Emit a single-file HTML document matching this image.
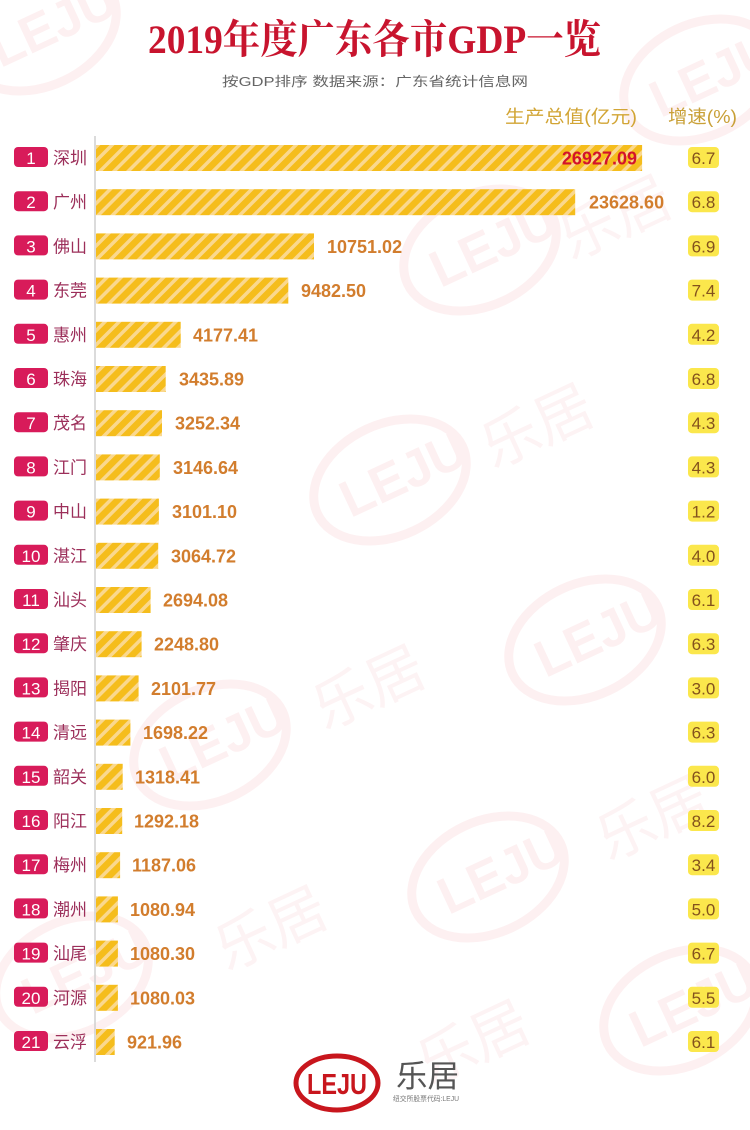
<!DOCTYPE html>
<html>
<head>
<meta charset="utf-8">
<style>
html,body{margin:0;padding:0;background:#fff;}
body{width:750px;height:1130px;overflow:hidden;}
svg{display:block;}
.cjk{font-family:"Liberation Sans","Noto Sans CJK SC",sans-serif;}
.val{font-family:"Liberation Sans","Noto Sans CJK SC",sans-serif;font-weight:bold;font-size:18px;fill:#d27d2d;}
.rk{font-family:"Liberation Sans",sans-serif;font-size:17px;fill:#fff;text-anchor:middle;}
.ct{font-family:"Liberation Sans","Noto Sans CJK SC",sans-serif;font-size:17px;fill:#9c2f5a;}
.gr{font-family:"Liberation Sans",sans-serif;font-size:17px;fill:#84521c;text-anchor:middle;}
.wm{fill:none;stroke:#fdf0f1;stroke-width:9;}
.wmt{font-family:"Liberation Sans",sans-serif;font-weight:bold;font-size:52px;fill:#fdf0f1;}
.wmc{font-family:"Liberation Sans","Noto Sans CJK SC",sans-serif;font-size:58px;fill:#fdf3f4;}
</style>
</head>
<body>
<svg width="750" height="1130" viewBox="0 0 750 1130" xmlns="http://www.w3.org/2000/svg">
<defs>
<pattern id="st" width="10" height="10" patternUnits="userSpaceOnUse" patternTransform="rotate(45)">
<rect width="10" height="10" fill="#f5bd1c"/>
<rect width="3.5" height="10" fill="#fad88e"/>
</pattern>
</defs>

<!-- watermarks -->
<g>
<g transform="translate(40,30) rotate(-25)"><ellipse cx="0" cy="0" rx="80" ry="56" class="wm"/><text x="-52" y="18" class="wmt">LEJU</text></g>
<g transform="translate(480,250) rotate(-25)"><ellipse cx="0" cy="0" rx="80" ry="56" class="wm"/><text x="-52" y="18" class="wmt">LEJU</text></g>
<text x="560" y="250" class="wmc" transform="rotate(-25 590 230)">乐居</text>
<g transform="translate(390,480) rotate(-25)"><ellipse cx="0" cy="0" rx="80" ry="56" class="wm"/><text x="-52" y="18" class="wmt">LEJU</text></g>
<text x="480" y="450" class="wmc" transform="rotate(-25 530 430)">乐居</text>
<g transform="translate(585,640) rotate(-25)"><ellipse cx="0" cy="0" rx="80" ry="56" class="wm"/><text x="-52" y="18" class="wmt">LEJU</text></g>
<g transform="translate(210,745) rotate(-25)"><ellipse cx="0" cy="0" rx="80" ry="56" class="wm"/><text x="-52" y="18" class="wmt">LEJU</text></g>
<text x="310" y="710" class="wmc" transform="rotate(-25 364 687)">乐居</text>
<g transform="translate(488,877) rotate(-25)"><ellipse cx="0" cy="0" rx="80" ry="56" class="wm"/><text x="-52" y="18" class="wmt">LEJU</text></g>
<text x="595" y="840" class="wmc" transform="rotate(-25 650 820)">乐居</text>
<g transform="translate(72,977) rotate(-25)"><ellipse cx="0" cy="0" rx="80" ry="56" class="wm"/><text x="-52" y="18" class="wmt">LEJU</text></g>
<text x="212" y="950" class="wmc" transform="rotate(-25 268 927)">乐居</text>
<g transform="translate(680,1010) rotate(-25)"><ellipse cx="0" cy="0" rx="80" ry="56" class="wm"/><text x="-52" y="18" class="wmt">LEJU</text></g>
<text x="415" y="1065" class="wmc" transform="rotate(-25 469 1043)">乐居</text>
<g transform="translate(700,80) rotate(-25)"><ellipse cx="0" cy="0" rx="80" ry="56" class="wm"/><text x="-52" y="18" class="wmt">LEJU</text></g>
</g>

<!-- title -->
<text x="148" y="53" textLength="453" lengthAdjust="spacingAndGlyphs" style="font-family:'Liberation Serif','Noto Serif CJK SC',serif;font-weight:bold;font-size:40px;fill:#c8142e;">2019年度广东各市GDP一览</text>
<text x="222" y="86" textLength="306" lengthAdjust="spacingAndGlyphs" class="cjk" style="font-size:13px;fill:#666;">按GDP排序 数据来源：广东省统计信息网</text>

<!-- headers -->
<text x="505" y="123" textLength="132" lengthAdjust="spacingAndGlyphs" class="cjk" style="font-size:18px;fill:#d2a535;">生产总值(亿元)</text>
<text x="668" y="123" textLength="69" lengthAdjust="spacingAndGlyphs" class="cjk" style="font-size:18px;fill:#c9a037;">增速(%)</text>

<!-- axis -->
<line x1="95" y1="136" x2="95" y2="1062" stroke="#cfcfcf" stroke-width="1.5"/>

<!-- rows -->
<g>
<rect x="14" y="147" width="34" height="20" rx="4" fill="#d81b5a"/><text x="31" y="164" class="rk">1</text><text x="53" y="164" class="ct">深圳</text>
<rect x="96" y="145" width="546.1" height="26" fill="url(#st)"/><text x="637" y="164.5" class="val" text-anchor="end" style="fill:#d3122c;">26927.09</text>
<rect x="688" y="147" width="31" height="21" rx="4" fill="#fbe74c"/><text x="703.5" y="164" class="gr">6.7</text>

<rect x="14" y="191.2" width="34" height="20" rx="4" fill="#d81b5a"/><text x="31" y="208.2" class="rk">2</text><text x="53" y="208.2" class="ct">广州</text>
<rect x="96" y="189.2" width="479.2" height="26" fill="url(#st)"/><text x="589" y="208.7" class="val">23628.60</text>
<rect x="688" y="191.2" width="31" height="21" rx="4" fill="#fbe74c"/><text x="703.5" y="208.2" class="gr">6.8</text>

<rect x="14" y="235.4" width="34" height="20" rx="4" fill="#d81b5a"/><text x="31" y="252.4" class="rk">3</text><text x="53" y="252.4" class="ct">佛山</text>
<rect x="96" y="233.4" width="218" height="26" fill="url(#st)"/><text x="327" y="252.9" class="val">10751.02</text>
<rect x="688" y="235.4" width="31" height="21" rx="4" fill="#fbe74c"/><text x="703.5" y="252.4" class="gr">6.9</text>

<rect x="14" y="279.6" width="34" height="20" rx="4" fill="#d81b5a"/><text x="31" y="296.6" class="rk">4</text><text x="53" y="296.6" class="ct">东莞</text>
<rect x="96" y="277.6" width="192.3" height="26" fill="url(#st)"/><text x="301" y="297.1" class="val">9482.50</text>
<rect x="688" y="279.6" width="31" height="21" rx="4" fill="#fbe74c"/><text x="703.5" y="296.6" class="gr">7.4</text>

<rect x="14" y="323.8" width="34" height="20" rx="4" fill="#d81b5a"/><text x="31" y="340.8" class="rk">5</text><text x="53" y="340.8" class="ct">惠州</text>
<rect x="96" y="321.8" width="84.7" height="26" fill="url(#st)"/><text x="193" y="341.3" class="val">4177.41</text>
<rect x="688" y="323.8" width="31" height="21" rx="4" fill="#fbe74c"/><text x="703.5" y="340.8" class="gr">4.2</text>

<rect x="14" y="368" width="34" height="20" rx="4" fill="#d81b5a"/><text x="31" y="385" class="rk">6</text><text x="53" y="385" class="ct">珠海</text>
<rect x="96" y="366" width="69.7" height="26" fill="url(#st)"/><text x="179" y="385.5" class="val">3435.89</text>
<rect x="688" y="368" width="31" height="21" rx="4" fill="#fbe74c"/><text x="703.5" y="385" class="gr">6.8</text>

<rect x="14" y="412.2" width="34" height="20" rx="4" fill="#d81b5a"/><text x="31" y="429.2" class="rk">7</text><text x="53" y="429.2" class="ct">茂名</text>
<rect x="96" y="410.2" width="66" height="26" fill="url(#st)"/><text x="175" y="429.7" class="val">3252.34</text>
<rect x="688" y="412.2" width="31" height="21" rx="4" fill="#fbe74c"/><text x="703.5" y="429.2" class="gr">4.3</text>

<rect x="14" y="456.4" width="34" height="20" rx="4" fill="#d81b5a"/><text x="31" y="473.4" class="rk">8</text><text x="53" y="473.4" class="ct">江门</text>
<rect x="96" y="454.4" width="63.8" height="26" fill="url(#st)"/><text x="173" y="473.9" class="val">3146.64</text>
<rect x="688" y="456.4" width="31" height="21" rx="4" fill="#fbe74c"/><text x="703.5" y="473.4" class="gr">4.3</text>

<rect x="14" y="500.6" width="34" height="20" rx="4" fill="#d81b5a"/><text x="31" y="517.6" class="rk">9</text><text x="53" y="517.6" class="ct">中山</text>
<rect x="96" y="498.6" width="62.9" height="26" fill="url(#st)"/><text x="172" y="518.1" class="val">3101.10</text>
<rect x="688" y="500.6" width="31" height="21" rx="4" fill="#fbe74c"/><text x="703.5" y="517.6" class="gr">1.2</text>

<rect x="14" y="544.8" width="34" height="20" rx="4" fill="#d81b5a"/><text x="31" y="561.8" class="rk">10</text><text x="53" y="561.8" class="ct">湛江</text>
<rect x="96" y="542.8" width="62.2" height="26" fill="url(#st)"/><text x="171" y="562.3" class="val">3064.72</text>
<rect x="688" y="544.8" width="31" height="21" rx="4" fill="#fbe74c"/><text x="703.5" y="561.8" class="gr">4.0</text>

<rect x="14" y="589" width="34" height="20" rx="4" fill="#d81b5a"/><text x="31" y="606" class="rk">11</text><text x="53" y="606" class="ct">汕头</text>
<rect x="96" y="587" width="54.6" height="26" fill="url(#st)"/><text x="163" y="606.5" class="val">2694.08</text>
<rect x="688" y="589" width="31" height="21" rx="4" fill="#fbe74c"/><text x="703.5" y="606" class="gr">6.1</text>

<rect x="14" y="633.2" width="34" height="20" rx="4" fill="#d81b5a"/><text x="31" y="650.2" class="rk">12</text><text x="53" y="650.2" class="ct">肇庆</text>
<rect x="96" y="631.2" width="45.6" height="26" fill="url(#st)"/><text x="154" y="650.7" class="val">2248.80</text>
<rect x="688" y="633.2" width="31" height="21" rx="4" fill="#fbe74c"/><text x="703.5" y="650.2" class="gr">6.3</text>

<rect x="14" y="677.4" width="34" height="20" rx="4" fill="#d81b5a"/><text x="31" y="694.4" class="rk">13</text><text x="53" y="694.4" class="ct">揭阳</text>
<rect x="96" y="675.4" width="42.6" height="26" fill="url(#st)"/><text x="151" y="694.9" class="val">2101.77</text>
<rect x="688" y="677.4" width="31" height="21" rx="4" fill="#fbe74c"/><text x="703.5" y="694.4" class="gr">3.0</text>

<rect x="14" y="721.6" width="34" height="20" rx="4" fill="#d81b5a"/><text x="31" y="738.6" class="rk">14</text><text x="53" y="738.6" class="ct">清远</text>
<rect x="96" y="719.6" width="34.4" height="26" fill="url(#st)"/><text x="143" y="739.1" class="val">1698.22</text>
<rect x="688" y="721.6" width="31" height="21" rx="4" fill="#fbe74c"/><text x="703.5" y="738.6" class="gr">6.3</text>

<rect x="14" y="765.8" width="34" height="20" rx="4" fill="#d81b5a"/><text x="31" y="782.8" class="rk">15</text><text x="53" y="782.8" class="ct">韶关</text>
<rect x="96" y="763.8" width="26.7" height="26" fill="url(#st)"/><text x="135" y="783.3" class="val">1318.41</text>
<rect x="688" y="765.8" width="31" height="21" rx="4" fill="#fbe74c"/><text x="703.5" y="782.8" class="gr">6.0</text>

<rect x="14" y="810" width="34" height="20" rx="4" fill="#d81b5a"/><text x="31" y="827" class="rk">16</text><text x="53" y="827" class="ct">阳江</text>
<rect x="96" y="808" width="26.2" height="26" fill="url(#st)"/><text x="134" y="827.5" class="val">1292.18</text>
<rect x="688" y="810" width="31" height="21" rx="4" fill="#fbe74c"/><text x="703.5" y="827" class="gr">8.2</text>

<rect x="14" y="854.2" width="34" height="20" rx="4" fill="#d81b5a"/><text x="31" y="871.2" class="rk">17</text><text x="53" y="871.2" class="ct">梅州</text>
<rect x="96" y="852.2" width="24.1" height="26" fill="url(#st)"/><text x="132" y="871.7" class="val">1187.06</text>
<rect x="688" y="854.2" width="31" height="21" rx="4" fill="#fbe74c"/><text x="703.5" y="871.2" class="gr">3.4</text>

<rect x="14" y="898.4" width="34" height="20" rx="4" fill="#d81b5a"/><text x="31" y="915.4" class="rk">18</text><text x="53" y="915.4" class="ct">潮州</text>
<rect x="96" y="896.4" width="21.9" height="26" fill="url(#st)"/><text x="130" y="915.9" class="val">1080.94</text>
<rect x="688" y="898.4" width="31" height="21" rx="4" fill="#fbe74c"/><text x="703.5" y="915.4" class="gr">5.0</text>

<rect x="14" y="942.6" width="34" height="20" rx="4" fill="#d81b5a"/><text x="31" y="959.6" class="rk">19</text><text x="53" y="959.6" class="ct">汕尾</text>
<rect x="96" y="940.6" width="21.9" height="26" fill="url(#st)"/><text x="130" y="960.1" class="val">1080.30</text>
<rect x="688" y="942.6" width="31" height="21" rx="4" fill="#fbe74c"/><text x="703.5" y="959.6" class="gr">6.7</text>

<rect x="14" y="986.8" width="34" height="20" rx="4" fill="#d81b5a"/><text x="31" y="1003.8" class="rk">20</text><text x="53" y="1003.8" class="ct">河源</text>
<rect x="96" y="984.8" width="21.9" height="26" fill="url(#st)"/><text x="130" y="1004.3" class="val">1080.03</text>
<rect x="688" y="986.8" width="31" height="21" rx="4" fill="#fbe74c"/><text x="703.5" y="1003.8" class="gr">5.5</text>

<rect x="14" y="1031" width="34" height="20" rx="4" fill="#d81b5a"/><text x="31" y="1048" class="rk">21</text><text x="53" y="1048" class="ct">云浮</text>
<rect x="96" y="1029" width="18.7" height="26" fill="url(#st)"/><text x="127" y="1048.5" class="val">921.96</text>
<rect x="688" y="1031" width="31" height="21" rx="4" fill="#fbe74c"/><text x="703.5" y="1048" class="gr">6.1</text>
</g>

<!-- bottom logo -->
<g>
<ellipse cx="337" cy="1083" rx="41" ry="27" fill="#fff" stroke="#c8161d" stroke-width="5"/>
<text x="307" y="1094" textLength="60" lengthAdjust="spacingAndGlyphs" style="font-family:'Liberation Sans',sans-serif;font-weight:bold;font-size:29px;fill:#c8161d;">LEJU</text>
<text x="396" y="1087" textLength="63" lengthAdjust="spacingAndGlyphs" class="cjk" style="font-size:31px;fill:#555;">乐居</text>
<text x="393" y="1101" textLength="66" lengthAdjust="spacingAndGlyphs" class="cjk" style="font-size:7px;fill:#777;">纽交所股票代码:LEJU</text>
</g>
</svg>
</body>
</html>
